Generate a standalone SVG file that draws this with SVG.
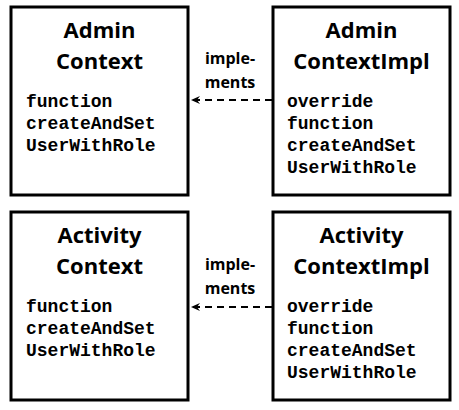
<svg xmlns="http://www.w3.org/2000/svg" width="459" height="410" viewBox="0 0 459 410">
<style>
.box{fill:#fff;stroke:#000;stroke-width:3}
.title{font-family:"Open Sans","Noto Sans",sans-serif;font-weight:bold;font-size:22px;text-anchor:middle;fill:#000}
.code{font-family:"Liberation Mono",monospace;font-weight:bold;font-size:18px;fill:#000}
.lbl{font-family:"Open Sans","Noto Sans",sans-serif;font-weight:bold;font-size:16px;text-anchor:middle;fill:#000}
.conn{stroke:#000;stroke-width:2;stroke-dasharray:7,5;fill:none}
</style>
<defs>
<marker id="ah" markerWidth="10" markerHeight="10" refX="9" refY="5" orient="auto" markerUnits="userSpaceOnUse">
<path d="M0,1 L9,5 L0,9 L3,5 Z" fill="#000"/>
</marker>
</defs>
<rect width="459" height="410" fill="#fff"/>
<g id="admin-context">
<rect class="box" x="11" y="7" width="177" height="188"/>
<text class="title" x="99.5" y="38">Admin</text>
<text class="title" x="99.5" y="69">Context</text>
<text class="code" x="26" y="107">function</text>
<text class="code" x="26" y="129">createAndSet</text>
<text class="code" x="26" y="151">UserWithRole</text>
</g>
<g id="admin-context-impl">
<rect class="box" x="273" y="7" width="177" height="188"/>
<text class="title" x="361.5" y="38">Admin</text>
<text class="title" x="361.5" y="69">ContextImpl</text>
<text class="code" x="287" y="107">override</text>
<text class="code" x="287" y="129">function</text>
<text class="code" x="287" y="151">createAndSet</text>
<text class="code" x="287" y="173">UserWithRole</text>
</g>
<g id="activity-context">
<rect class="box" x="11" y="212" width="177" height="188"/>
<text class="title" x="99.5" y="243">Activity</text>
<text class="title" x="99.5" y="274">Context</text>
<text class="code" x="26" y="312">function</text>
<text class="code" x="26" y="334">createAndSet</text>
<text class="code" x="26" y="356">UserWithRole</text>
</g>
<g id="activity-context-impl">
<rect class="box" x="273" y="212" width="177" height="188"/>
<text class="title" x="361.5" y="243">Activity</text>
<text class="title" x="361.5" y="274">ContextImpl</text>
<text class="code" x="287" y="312">override</text>
<text class="code" x="287" y="334">function</text>
<text class="code" x="287" y="356">createAndSet</text>
<text class="code" x="287" y="378">UserWithRole</text>
</g>
<g id="connectors">
<line class="conn" x1="272" y1="100" x2="191" y2="100" marker-end="url(#ah)"/>
<text class="lbl" x="230" y="64">imple-</text>
<text class="lbl" x="230" y="88">ments</text>
<line class="conn" x1="272" y1="307" x2="191" y2="307" marker-end="url(#ah)"/>
<text class="lbl" x="230" y="270">imple-</text>
<text class="lbl" x="230" y="294">ments</text>
</g>
</svg>
